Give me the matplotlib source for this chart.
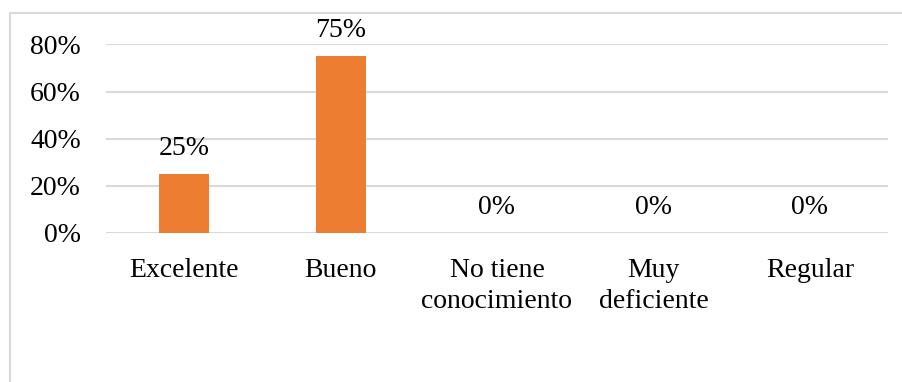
import matplotlib.pyplot as plt
from matplotlib.patches import Rectangle
from matplotlib.ticker import FuncFormatter

categorias = ["Excelente", "Bueno", "No tiene\nconocimiento", "Muy\ndeficiente", "Regular"]
porcentajes = [0.25, 0.75, 0.0, 0.0, 0.0]
ticks_y = [0.0, 0.2, 0.4, 0.6, 0.8]

plt.rcParams['font.family'] = ['Liberation Serif', 'DejaVu Serif']

fig = plt.figure(figsize=(9.03, 3.82), dpi=100)
W, H = 903, 382

# Light chart border (runs off the right and bottom edges)
fig.patches.append(Rectangle((10 / W, -0.1), 1.2, 1 - 13 / H + 0.1, transform=fig.transFigure,
                             fill=False, edgecolor='#D9D9D9', linewidth=1.5))

ax = fig.add_axes([106 / W, (H - 233) / H, (888 - 106) / W, (233 - 44) / H])
x = range(len(categorias))
bars = ax.bar(x, porcentajes, width=0.32, color='#ED7D31', zorder=3)

# Data labels above each bar
for xi, v in zip(x, porcentajes):
    ax.annotate(f"{v:.0%}", (xi, v), xytext=(0, 14), textcoords='offset points',
                ha='center', va='baseline', fontsize=20)

ax.set_xlim(-0.5, len(categorias) - 0.5)
ax.set_ylim(0, 0.802)
ax.set_yticks(ticks_y)
ax.yaxis.set_major_formatter(FuncFormatter(lambda v, p: f"{v:.0%}"))
ax.set_xticks(list(x))
ax.set_xticklabels(categorias, linespacing=1.3)
ax.tick_params(axis='both', length=0, labelsize=20)
ax.tick_params(axis='x', pad=18)
ax.tick_params(axis='y', pad=18)

ax.grid(axis='y', color='#D9D9D9', linewidth=1.5, zorder=0)
for s in ax.spines.values():
    s.set_visible(False)

fig.savefig("out.png", dpi=100)
